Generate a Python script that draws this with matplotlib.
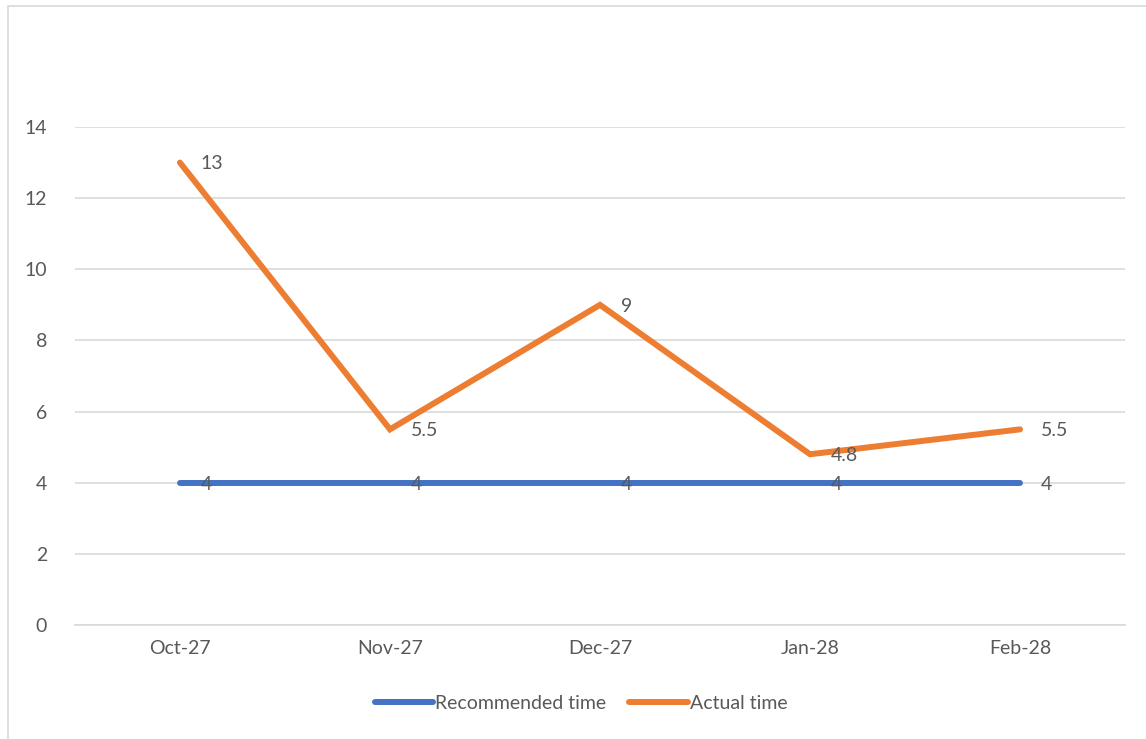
# Recommended vs actual time, monthly line chart
import matplotlib.pyplot as plt
from matplotlib.patches import Rectangle

months = ["Oct-27", "Nov-27", "Dec-27", "Jan-28", "Feb-28"]
recommended_time = [4, 4, 4, 4, 4]
actual_time = [13, 5.5, 9, 4.8, 5.5]
y_ticks = [0, 2, 4, 6, 8, 10, 12, 14]

text_color = "#595959"
grid_color = "#D9D9D9"
blue = "#4472C4"
orange = "#ED7D31"
fs = 14

plt.rcParams['font.family'] = ['Lato', 'DejaVu Sans']

fig = plt.figure(figsize=(11.46, 7.39), dpi=100)
ax = fig.add_axes([0.0654, 0.1543, 0.9163, 0.6738])

x = list(range(len(months)))
ax.plot(x, recommended_time, color=blue, lw=4.3, solid_capstyle='round',
        label="Recommended time", zorder=3)
ax.plot(x, actual_time, color=orange, lw=4.3, solid_capstyle='round',
        solid_joinstyle='miter', label="Actual time", zorder=3)

for xi, v in zip(x, recommended_time):
    ax.annotate(f"{v:g}", (xi, v), xytext=(15, -1), textcoords='offset points',
                ha='left', va='center', fontsize=fs, color=text_color, zorder=4)
for xi, v in zip(x, actual_time):
    ax.annotate(f"{v:g}", (xi, v), xytext=(15, -1), textcoords='offset points',
                ha='left', va='center', fontsize=fs, color=text_color, zorder=4)

ax.set_xlim(-0.5, len(months) - 0.5)
ax.set_ylim(0, 14)
ax.set_yticks(y_ticks)
ax.set_xticks(x)
ax.set_xticklabels(months)
ax.tick_params(axis='both', length=0, labelsize=fs, labelcolor=text_color)
ax.tick_params(axis='y', pad=20)
ax.tick_params(axis='x', pad=11)
ax.grid(axis='y', color=grid_color, lw=1.2)
ax.set_axisbelow(True)
for side in ['top', 'right', 'left']:
    ax.spines[side].set_visible(False)
ax.spines['bottom'].set_color(grid_color)
ax.spines['bottom'].set_linewidth(1.2)

leg = fig.legend(loc='center', bbox_to_anchor=(0.507, 0.048), ncol=2, frameon=False,
                 fontsize=fs, handlelength=3.0, handletextpad=0.1, columnspacing=1.2)
for t in leg.get_texts():
    t.set_color(text_color)

fig.patches.append(Rectangle((0.007, -0.05), 1.1, 1.0419, transform=fig.transFigure,
                             fill=False, edgecolor=grid_color, lw=1.2))

fig.savefig("out.png", dpi=100)
